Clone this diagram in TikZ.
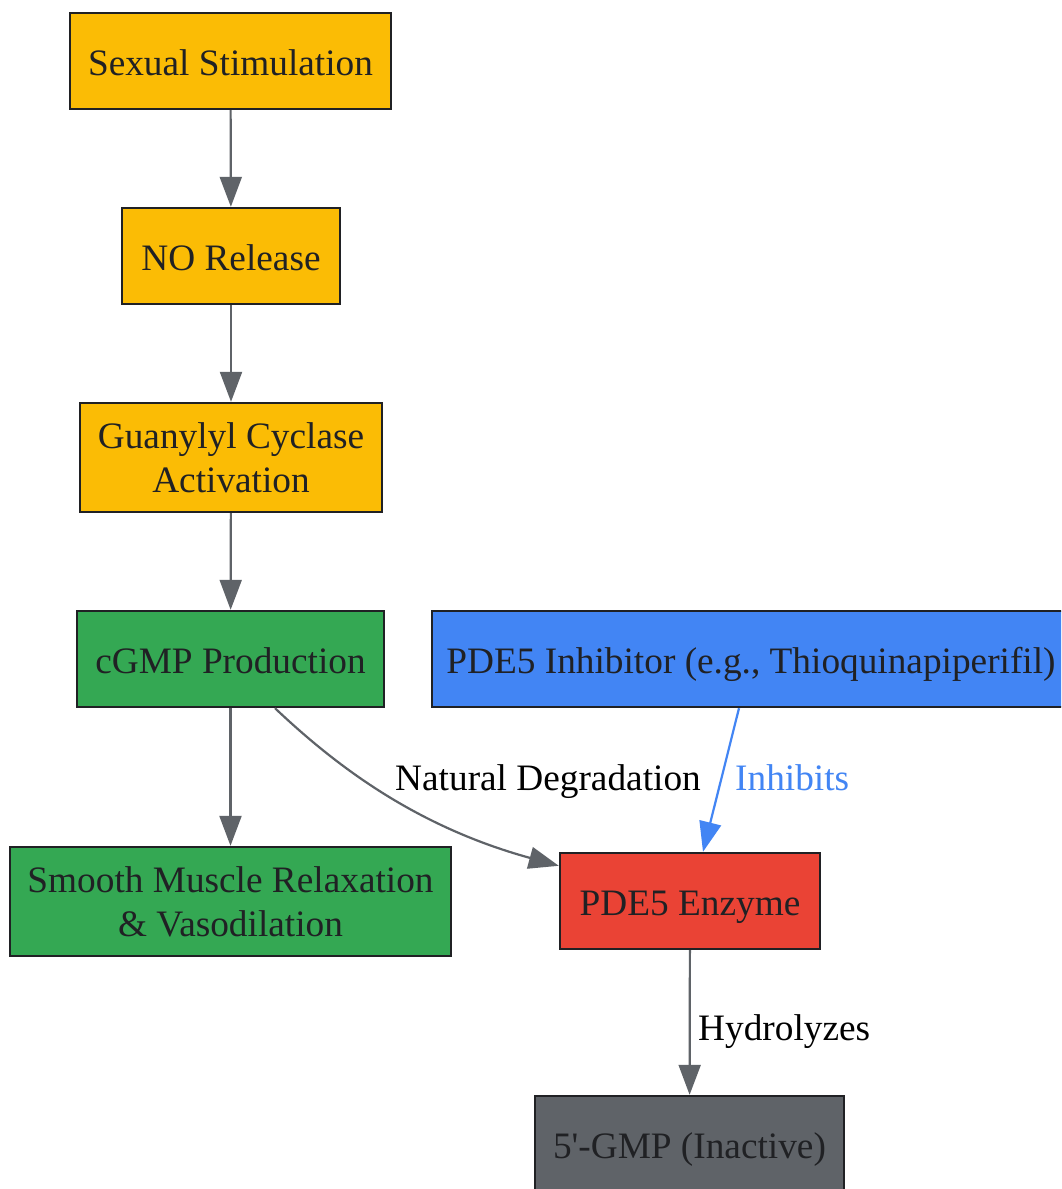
\documentclass[tikz,border=0pt]{standalone}
\usepackage{fontspec}
\setmainfont{Liberation Serif}[Ligatures=TeXOff]
\usetikzlibrary{arrows.meta}
\definecolor{cyellow}{HTML}{FBBC05}
\definecolor{cgreen}{HTML}{34A853}
\definecolor{cblue}{HTML}{4285F4}
\definecolor{cred}{HTML}{EA4335}
\definecolor{cgray}{HTML}{5F6368}
\definecolor{ctext}{HTML}{202124}
\definecolor{cedge}{HTML}{5F6368}
\begin{document}
\begin{tikzpicture}[x=1pt,y=-1pt,
  box/.style={draw=ctext, line width=2.4pt, inner sep=0pt, align=center, text=ctext,
    font=\fontsize{37.3}{44}\selectfont},
  oneline/.style={text height=28pt, text depth=0pt},
  edge/.style={draw=cedge, line width=2.2pt, -{Triangle[length=30pt,width=22pt]}},
  lbl/.style={inner sep=0pt, font=\fontsize{37.3}{44}\selectfont}]
\clip (0,0) rectangle (1061,1189);
\fill[white] (0,0) rectangle (1061,1189);

\node[box, oneline, fill=cyellow, minimum width=321pt, minimum height=96pt] (ss) at (230.5,61) {Sexual Stimulation};
\node[box, oneline, fill=cyellow, minimum width=218pt, minimum height=96pt] (no) at (231,256) {NO Release};
\node[box, fill=cyellow, minimum width=302pt, minimum height=109pt] (gc) at (231,457.5) {Guanylyl Cyclase\\Activation};
\node[box, oneline, fill=cgreen, minimum width=307pt, minimum height=96pt] (cgmp) at (230.5,659) {cGMP Production};
\node[box, oneline, fill=cblue, minimum width=638pt, minimum height=96pt] (inh) at (751,659) {PDE5 Inhibitor (e.g., Thioquinapiperifil)};
\node[box, fill=cgreen, minimum width=441pt, minimum height=109pt] (smc) at (230.5,901.5) {Smooth Muscle Relaxation\\\& Vasodilation};
\node[box, oneline, fill=cred, minimum width=260pt, minimum height=96pt] (pde) at (690,901) {PDE5 Enzyme};
\node[box, oneline, fill=cgray, minimum width=309pt, minimum height=96pt] (gmp) at (689.5,1144) {5'-GMP (Inactive)};

\draw[edge] (ss) -- (no);
\draw[edge] (no) -- (gc);
\draw[edge] (gc) -- (cgmp);
\draw[edge] (cgmp) -- (smc);
\draw[edge] ([xshift=44.5pt]cgmp.south) .. controls (330,760) and (410,825) .. ([yshift=-14pt]pde.north west);
\draw[edge, draw=cblue] ([xshift=-12pt]inh.south) -- ([xshift=13pt]pde.north);
\draw[edge] (pde) -- (gmp);

\node[lbl, anchor=base] (l1) at (548,790) {Natural Degradation};
\node[lbl, anchor=base west, text=cblue] (l2) at (735,790) {Inhibits};
\node[lbl, anchor=base west] (l3) at (698,1040) {Hydrolyzes};
\end{tikzpicture}
\end{document}
